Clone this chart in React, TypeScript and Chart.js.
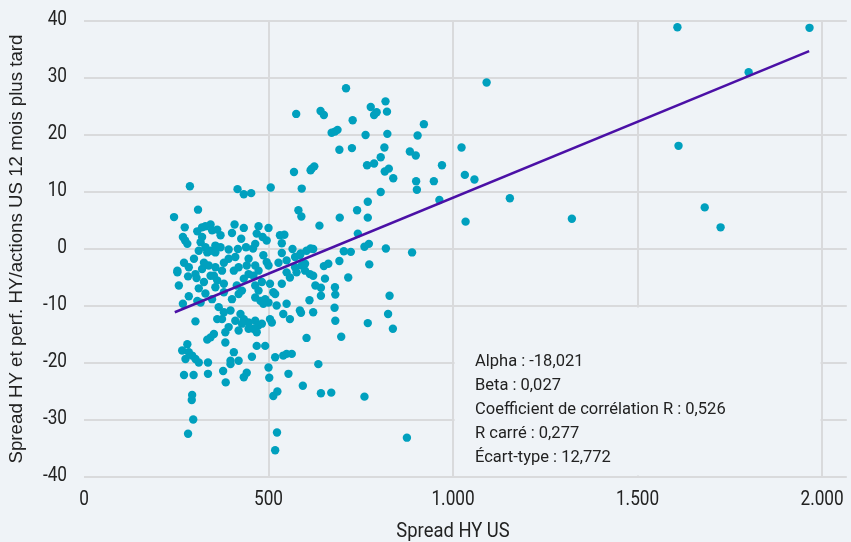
import React, { useEffect, useRef } from 'react';
import { Chart, registerables } from 'chart.js';

Chart.register(...registerables);

// Observations: [Spread HY US (bp), perf. HY/actions US 12 mois plus tard (%)]
const wideSpread: [number, number][] = [
  [1608, 38.9], [1966, 38.8], [1801, 31.0], [1611, 18.1], [1682, 7.3], [1725, 3.8], [1322, 5.3], [1154, 8.9],
  [1091, 29.2], [1023, 17.8], [1032, 13.0], [1058, 12.2], [1034, 4.8], [970, 14.7], [963, 8.6], [948, 11.9],
];

const midSpreadUpper: [number, number][] = [
  [710, 28.2], [641, 24.2], [650, 23.5], [777, 24.9], [817, 25.9], [793, 24.0], [786, 23.5], [821, 24.1],
  [728, 22.6], [575, 23.7], [671, 20.4], [680, 20.6], [687, 20.9], [763, 20.0], [822, 20.2], [921, 21.9],
  [904, 19.9], [692, 17.4], [726, 17.7], [814, 17.8], [883, 17.1], [899, 16.4], [804, 16.1], [767, 14.7],
  [786, 15.0], [617, 14.1], [624, 14.5], [614, 13.8], [826, 14.1], [815, 13.6], [838, 12.4], [900, 11.9],
  [902, 10.4], [590, 10.6], [804, 10.0], [769, 8.3], [740, 6.8], [589, 5.7], [581, 6.8], [693, 5.5],
  [769, 5.5], [638, 4.1], [742, 2.7], [772, 0.9], [760, 0.4], [818, 0.1], [889, -0.6], [614, 0.1],
  [621, 0.0], [704, -0.4], [723, -0.5], [692, -2.1], [773, -2.7], [650, -3.0], [662, -2.6], [585, -1.1],
  [590, -2.9], [599, -3.8], [612, -4.4], [621, -4.7], [653, -5.2], [716, -5.0],
];

const midSpreadLower: [number, number][] = [
  [627, -6.4], [642, -6.8], [680, -6.7], [642, -8.2], [681, -8.0], [828, -8.2], [611, -9.0], [585, -10.8],
  [588, -11.2], [621, -11.1], [679, -10.3], [681, -12.6], [824, -11.4], [769, -13.0], [837, -14.0], [603, -15.6],
  [697, -15.4], [635, -20.2], [593, -24.0], [642, -25.3], [670, -25.2], [760, -25.9], [875, -33.1],
];

const lowSpreadDeep: [number, number][] = [
  [271, -22.1], [297, -22.1], [336, -21.9], [377, -21.4], [384, -23.4], [433, -22.5], [441, -21.7], [502, -22.6],
  [554, -21.9], [293, -25.6], [292, -26.5], [296, -29.9], [282, -32.4], [513, -25.8], [524, -25.0], [523, -32.2],
  [518, -35.3],
];

const lowSpreadNegative: [number, number][] = [
  [253, -4.1], [282, -4.8], [305, -5.1], [325, -5.8], [343, -4.7], [361, -5.5], [379, -6.1], [356, -6.7],
  [257, -6.4], [329, -7.8], [347, -8.8], [316, -9.4], [414, -6.4], [428, -7.3], [401, -8.8], [419, -7.9],
  [459, -4.7], [464, -6.4], [446, -4.4], [482, -5.8], [504, -6.1], [513, -7.6], [518, -7.9], [536, -6.1],
  [549, -4.1], [558, -5.0], [576, -4.1], [464, -8.5], [478, -9.1], [491, -8.8], [500, -9.4], [486, -9.6],
  [522, -9.9], [549, -9.6], [540, -11.4], [558, -12.3], [268, -9.6], [307, -9.1], [302, -12.7], [365, -10.2],
  [379, -11.1], [397, -10.8], [374, -12.3], [361, -12.3], [410, -12.6], [424, -11.4], [433, -12.3], [446, -12.9],
  [428, -13.1], [464, -12.6], [473, -13.4], [482, -13.1], [459, -14.0], [446, -14.0], [504, -12.3], [509, -12.9],
  [468, -14.6], [383, -14.6], [392, -13.7], [419, -14.3], [352, -14.9], [343, -15.5], [334, -15.9], [383, -16.4],
  [468, -17.0], [491, -17.0], [280, -16.7], [266, -17.8], [284, -18.1], [293, -18.7], [302, -19.3], [311, -19.9],
  [275, -19.3], [336, -19.9], [397, -19.6], [419, -19.6], [406, -18.1], [455, -18.9], [500, -20.8], [518, -19.0],
  [540, -18.7], [549, -18.4], [563, -18.4], [397, -20.2], [352, -4.7], [406, -3.8], [433, -5.2], [379, -7.6],
  [311, -6.9], [284, -8.3], [473, -7.3],
];

const lowSpreadPositive: [number, number][] = [
  [287, 11.0], [416, 10.5], [433, 9.6], [453, 9.8], [506, 10.8], [569, 13.5], [309, 6.9], [244, 5.6],
  [273, 3.8], [307, 3.1], [329, 4.0], [343, 4.3], [361, 3.4], [370, 2.4], [320, 2.1], [316, 1.2],
  [311, -0.3], [329, 0.3], [408, 4.3], [433, 3.7], [401, 2.8], [426, 1.8], [473, 4.0], [500, 3.7],
  [468, 2.7], [484, 2.1], [495, 1.5], [464, 0.9], [458, 0.1], [268, 2.1], [280, 0.9], [274, 1.5],
  [370, 0.3], [356, -0.6], [343, -0.3], [392, -0.1], [417, 0.0], [439, 0.3], [531, 2.4], [543, 2.5],
  [536, 1.0], [565, 0.0], [587, -0.8], [603, -0.3], [536, -0.7], [549, -2.0], [572, -1.4], [253, -3.8],
  [284, -3.2], [302, -4.4], [320, -3.5], [338, -2.9], [356, -3.2], [374, -3.8], [392, -1.7], [410, -1.4],
  [419, -3.2], [441, -2.9], [464, -2.9], [473, -3.8], [495, -2.3], [572, -3.2], [599, -2.6], [320, 3.8],
  [347, 3.3], [334, -0.6], [356, 0.6], [298, -1.7], [325, -2.4], [379, -2.4], [446, -1.7], [486, -1.1],
  [500, -2.9], [527, -2.4], [271, -2.4],
];

// Regression line (ends of the fitted segment)
const fitSpread = [246, 1965];
const fitPerf = [-11.1, 34.7];

const xTickValues = [0, 500, 1000, 1500, 2000];
const xTickLabels = ['0', '500', '1.000', '1.500', '2.000'];
const yTickValues = [-40, -30, -20, -10, 0, 10, 20, 30, 40];
const statsLines = [
  'Alpha : -18,021',
  'Beta : 0,027',
  'Coefficient de corrélation R : 0,526',
  'R carré : 0,277',
  'Écart-type : 12,772',
];
const xTitle = 'Spread HY US';
const yTitle = 'Spread HY et perf. HY/actions US 12 mois plus tard';

const BG = '#eff3f7';
const GRID = '#d9dadc';
const TEXT = '#222222';
const DOT = '#00a0be';
const FIT = '#4b10a6';

function drawScaled(ctx: CanvasRenderingContext2D, text: string, x: number, y: number, sx: number, align: CanvasTextAlign) {
  ctx.save();
  ctx.translate(x, y);
  ctx.scale(sx, 1);
  ctx.textAlign = align;
  ctx.textBaseline = 'alphabetic';
  ctx.fillText(text, 0, 0);
  ctx.restore();
}

const textPlugin = {
  id: 'textPlugin',
  beforeDraw(chart: any) {
    const ctx = chart.ctx;
    ctx.save();
    ctx.fillStyle = BG;
    ctx.fillRect(0, 0, chart.width, chart.height);
    ctx.restore();
  },
  beforeDatasetsDraw(chart: any) {
    const ctx = chart.ctx;
    const xs = chart.scales.x;
    const ys = chart.scales.y;
    // statistics box covers the inner grid of its cell
    const l = xs.getPixelForValue(1000) + 1.5;
    const r = xs.getPixelForValue(2000) - 1.5;
    const t = ys.getPixelForValue(-10) + 1.5;
    const b = ys.getPixelForValue(-40) - 1.5;
    ctx.save();
    ctx.fillStyle = BG;
    ctx.fillRect(l, t, r - l, b - t);
    ctx.restore();
  },
  afterDraw(chart: any) {
    const ctx = chart.ctx;
    const xs = chart.scales.x;
    const ys = chart.scales.y;
    ctx.save();
    ctx.fillStyle = TEXT;
    ctx.font = '21px Roboto';
    yTickValues.forEach((v) => {
      drawScaled(ctx, String(v), 67, ys.getPixelForValue(v) + 4, 0.82, 'right');
    });
    xTickValues.forEach((v, i) => {
      drawScaled(ctx, xTickLabels[i], xs.getPixelForValue(v), 505, 0.82, 'center');
    });
    ctx.font = '20px Roboto';
    const cx = (xs.getPixelForValue(0) + xs.getPixelForValue(2000)) / 2;
    drawScaled(ctx, xTitle, cx, 537, 0.92, 'center');

    ctx.save();
    const cy = (chart.chartArea.top + chart.chartArea.bottom) / 2;
    ctx.translate(22, cy);
    ctx.rotate(-Math.PI / 2);
    ctx.font = '18.7px "Liberation Sans", Arial, sans-serif';
    ctx.textAlign = 'center';
    ctx.textBaseline = 'alphabetic';
    ctx.fillText(yTitle, 0, 0);
    ctx.restore();

    ctx.font = '16.5px Roboto';
    ctx.textAlign = 'left';
    ctx.textBaseline = 'alphabetic';
    statsLines.forEach((s, i) => {
      ctx.fillText(s, 475, 366 + i * 24);
    });
    ctx.restore();
  },
};

export default function App() {
  const ref = useRef<HTMLCanvasElement | null>(null);

  useEffect(() => {
    if (!ref.current) return;
    const points = [
      ...wideSpread,
      ...midSpreadUpper,
      ...midSpreadLower,
      ...lowSpreadDeep,
      ...lowSpreadNegative,
      ...lowSpreadPositive,
    ].map(([x, y]) => ({ x, y }));
    const fitLine = fitSpread.map((x, i) => ({ x, y: fitPerf[i] }));

    const chart = new Chart(ref.current, {
      type: 'scatter',
      data: {
        datasets: [
          {
            type: 'line',
            label: 'Régression',
            data: fitLine,
            borderColor: FIT,
            borderWidth: 2.5,
            pointRadius: 0,
            fill: false,
            tension: 0,
          } as any,
          {
            type: 'scatter',
            label: 'Observations',
            data: points,
            backgroundColor: DOT,
            borderWidth: 0,
            pointRadius: 4.2,
          },
        ],
      },
      options: {
        responsive: false,
        animation: false,
        devicePixelRatio: 1,
        layout: { padding: { top: 21, right: 0, bottom: 0, left: 0 } },
        plugins: { legend: { display: false }, tooltip: { enabled: false } },
        scales: {
          x: {
            type: 'linear',
            min: 0,
            max: 2067,
            afterBuildTicks: (s: any) => {
              s.ticks = xTickValues.map((v) => ({ value: v }));
            },
            afterFit: (s: any) => {
              s.height = 65;
            },
            ticks: { display: false },
            border: { display: false },
            grid: {
              color: (c: any) => (c.tick && c.tick.value === 0 ? 'rgba(0,0,0,0)' : GRID),
              lineWidth: 2,
              drawTicks: false,
            },
          },
          y: {
            type: 'linear',
            min: -40,
            max: 40,
            ticks: { display: false, stepSize: 10 },
            afterFit: (s: any) => {
              s.width = 84;
            },
            border: { display: false },
            grid: { color: GRID, lineWidth: 2, drawTicks: false },
          },
        },
      },
      plugins: [textPlugin],
    });
    return () => chart.destroy();
  }, []);

  return (
    <div style={{ position: 'fixed', left: 0, top: 0, width: 851, height: 542, background: BG }}>
      <canvas ref={ref} width={851} height={542} style={{ display: 'block' }} />
    </div>
  );
}
